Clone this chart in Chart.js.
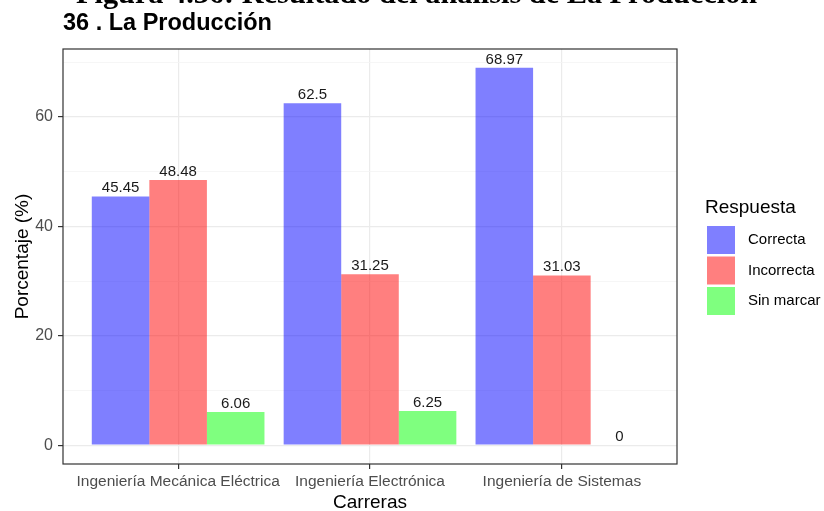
<!DOCTYPE html>
<html lang="es">
  <head>
    <meta charset="utf-8">
    <title>36 . La Producción</title>
    <script src="https://cdn.jsdelivr.net/npm/chart.js"></script>
    <style>
      body { margin: 0; background: #fff; }
      #wrap { position: relative; width: 824px; height: 511px; overflow: hidden; }
      #caption { position: absolute; left: 76px; top: -22px; font: bold 30.3px "Liberation Serif", serif; line-height: 1; white-space: nowrap; color: #000; }
      #title { position: absolute; left: 63px; top: 11px; font: bold 23.5px "Liberation Sans", Arial, sans-serif; line-height: 1; white-space: nowrap; color: #000; }
      canvas { position: absolute; left: 0; top: 0; }
    </style>
  </head>
  <body>
    <div id="wrap">
      <canvas id="myChart" width="824" height="511"></canvas>
      <div id="caption">Figura 4.36: Resultado del análisis de La Producción</div>
      <div id="title">36 . La Producción</div>
    </div>
    <script>
      // datos
      const carreras = ['Ingeniería Mecánica Eléctrica', 'Ingeniería Electrónica', 'Ingeniería de Sistemas'];
      const respuestas = ['Correcta', 'Incorrecta', 'Sin marcar'];
      const correcta = [45.45, 62.5, 68.97];
      const incorrecta = [48.48, 31.25, 31.03];
      const sinMarcar = [6.06, 6.25, 0];
      const majorTicks = [0, 20, 40, 60];
      const minorTicks = [10, 30, 50, 70];

      const colores = ['rgba(0, 0, 255, 0.5)', 'rgba(255, 0, 0, 0.5)', 'rgba(0, 255, 0, 0.5)'];
      const FONT = '"Liberation Sans", Arial, sans-serif';

      function toPoints(arr) {
        return arr.map((v, i) => ({ x: i + 1, y: v }));
      }

      // etiquetas encima de cada barra
      const valueLabels = {
        id: 'valueLabels',
        afterDatasetsDraw(chart) {
          const ctx = chart.ctx;
          ctx.save();
          ctx.font = '15px ' + FONT;
          ctx.fillStyle = '#1a1a1a';
          ctx.textAlign = 'center';
          ctx.textBaseline = 'bottom';
          chart.data.datasets.forEach((ds, di) => {
            chart.getDatasetMeta(di).data.forEach((bar, i) => {
              ctx.fillText(String(ds.data[i].y), bar.x, bar.y - 1);
            });
          });
          ctx.restore();
        }
      };

      // borde del panel y leyenda estilo ggplot
      const panelAndLegend = {
        id: 'panelAndLegend',
        afterDraw(chart) {
          const ctx = chart.ctx;
          const a = chart.chartArea;
          ctx.save();
          ctx.strokeStyle = '#333333';
          ctx.lineWidth = 1.2;
          ctx.strokeRect(a.left, a.top, a.right - a.left, a.bottom - a.top);

          ctx.fillStyle = '#000';
          ctx.font = '19px ' + FONT;
          ctx.textAlign = 'left';
          ctx.textBaseline = 'middle';
          ctx.fillText('Respuesta', 705, 208);
          ctx.font = '15px ' + FONT;
          chart.data.datasets.forEach((ds, i) => {
            const y = 226 + i * 30.5;
            ctx.fillStyle = ds.backgroundColor;
            ctx.fillRect(707, y, 28, 28);
            ctx.fillStyle = '#000';
            ctx.fillText(ds.label, 748, y + 14);
          });
          ctx.restore();
        }
      };

      const ctx = document.getElementById('myChart');
      new Chart(ctx, {
        type: 'bar',
        data: {
          datasets: [
            { label: respuestas[0], data: toPoints(correcta), backgroundColor: colores[0] },
            { label: respuestas[1], data: toPoints(incorrecta), backgroundColor: colores[1] },
            { label: respuestas[2], data: toPoints(sinMarcar), backgroundColor: colores[2] }
          ]
        },
        options: {
          responsive: false,
          animation: false,
          devicePixelRatio: 1,
          categoryPercentage: 0.9,
          barPercentage: 1.0,
          layout: { padding: { top: 49, right: 147, bottom: 0, left: 0 } },
          plugins: {
            legend: { display: false },
            tooltip: { enabled: false }
          },
          scales: {
            x: {
              type: 'linear',
              min: 0.4,
              max: 3.6,
              offset: false,
              afterBuildTicks(s) { s.ticks = carreras.map((c, i) => ({ value: i + 1 })); },
              afterFit(s) { s.height = 47; },
              border: { display: false },
              grid: { offset: false, color: '#ebebeb', lineWidth: 1.2, tickColor: '#333333', tickLength: 5 },
              ticks: {
                padding: 3,
                color: '#4d4d4d',
                font: { family: FONT, size: 15.5 },
                maxRotation: 0,
                autoSkip: false,
                callback: (v) => carreras[v - 1] || ''
              },
              title: {
                display: true,
                text: 'Carreras',
                color: '#000',
                font: { family: FONT, size: 19, lineHeight: 0.85 },
                padding: { top: 0, bottom: 0 }
              }
            },
            y: {
              min: -3.4485,
              max: 72.4185,
              afterBuildTicks(s) {
                s.ticks = majorTicks.concat(minorTicks).sort((p, q) => p - q).map(v => ({ value: v }));
              },
              afterFit(s) { s.width = 63; },
              border: { display: false },
              grid: {
                color: (c) => majorTicks.includes(c.tick.value) ? '#ebebeb' : '#f4f4f4',
                lineWidth: (c) => majorTicks.includes(c.tick.value) ? 1.2 : 0.8,
                tickColor: (c) => majorTicks.includes(c.tick.value) ? '#333333' : 'rgba(0,0,0,0)',
                tickLength: 5
              },
              ticks: {
                padding: 5,
                color: '#4d4d4d',
                font: { family: FONT, size: 16 },
                callback: (v) => majorTicks.includes(v) ? String(v) : ''
              },
              title: {
                display: true,
                text: 'Porcentaje (%)',
                color: '#000',
                font: { family: FONT, size: 19, lineHeight: 1.2 },
                padding: { top: 11, bottom: 0 }
              }
            }
          }
        },
        plugins: [valueLabels, panelAndLegend]
      });
    </script>
  </body>
</html>
